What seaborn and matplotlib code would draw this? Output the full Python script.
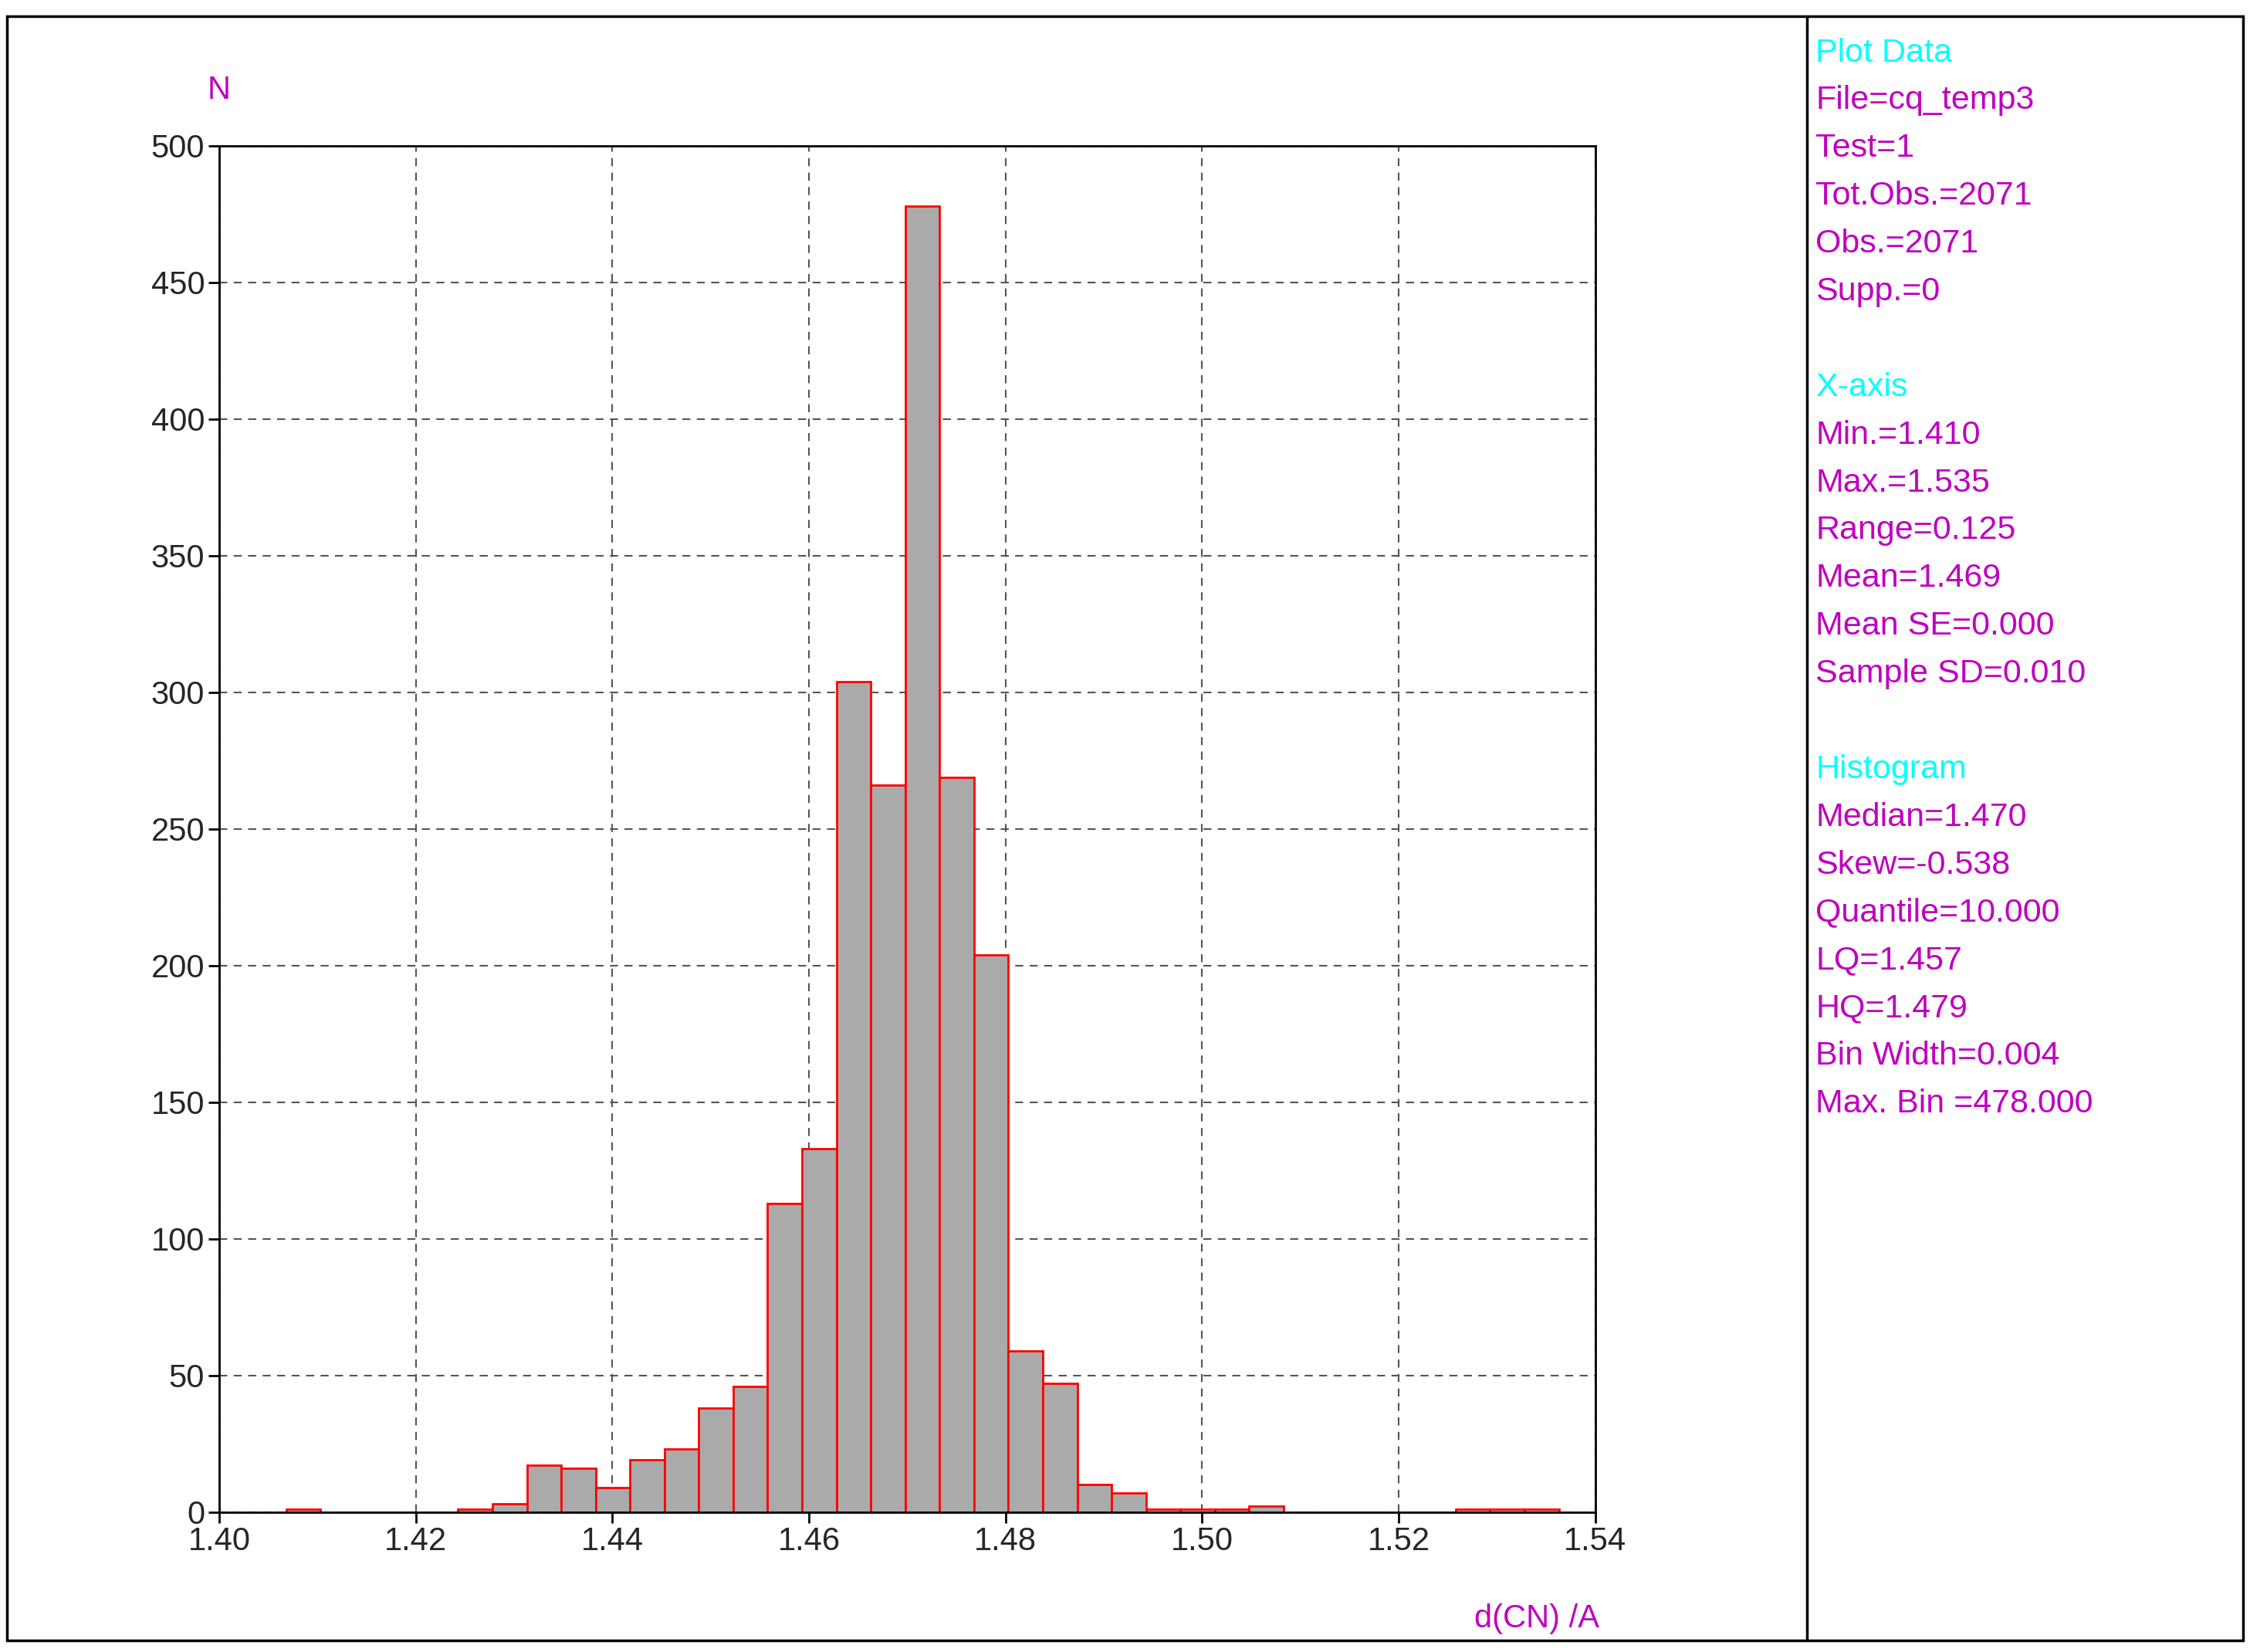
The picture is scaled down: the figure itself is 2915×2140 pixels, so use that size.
import numpy as np
import pandas as pd
import matplotlib.pyplot as plt
import seaborn as sns

# Histogram bins (left edge start + width) and counts
bin_start = 1.4068
bin_width = 0.0035
counts = [1, 0, 0, 0, 0, 1, 3, 17, 16, 9, 19, 23, 38, 46, 113, 133, 304, 266,
          478, 269, 204, 59, 47, 10, 7, 1, 1, 1, 2, 0, 0, 0, 0, 0, 1, 1, 1]

x_ticks = [1.40, 1.42, 1.44, 1.46, 1.48, 1.50, 1.52, 1.54]
y_ticks = [0, 50, 100, 150, 200, 250, 300, 350, 400, 450, 500]

panel = [
    ("Plot Data", "cyan"), ("File=cq_temp3", "m"), ("Test=1", "m"),
    ("Tot.Obs.=2071", "m"), ("Obs.=2071", "m"), ("Supp.=0", "m"), ("", "m"),
    ("X-axis", "cyan"), ("Min.=1.410", "m"), ("Max.=1.535", "m"),
    ("Range=0.125", "m"), ("Mean=1.469", "m"), ("Mean SE=0.000", "m"),
    ("Sample SD=0.010", "m"), ("", "m"),
    ("Histogram", "cyan"), ("Median=1.470", "m"), ("Skew=-0.538", "m"),
    ("Quantile=10.000", "m"), ("LQ=1.457", "m"), ("HQ=1.479", "m"),
    ("Bin Width=0.004", "m"), ("Max. Bin =478.000", "m"),
]

sns.set_style("white")
plt.rcParams['font.family'] = ['Liberation Sans', 'DejaVu Sans']

n = len(counts)
edges = bin_start + bin_width * np.arange(n + 1)
df = pd.DataFrame({"d": edges[:-1] + bin_width / 2, "n": counts})
df = df[df["n"] > 0]

fig = plt.figure(figsize=(29.15, 21.4), dpi=100)
ax = fig.add_axes([0.0974, 0.0848, 0.6116, 0.8269])

sns.histplot(data=df, x="d", weights="n", bins=list(edges), ax=ax,
             color="#aaaaaa", edgecolor="red", linewidth=2, alpha=1)

ax.set_xlim(1.40, 1.54)
ax.set_ylim(0, 500)
ax.set_xticks(x_ticks)
ax.set_xticklabels([f"{t:.2f}" for t in x_ticks])
ax.set_yticks(y_ticks)
ax.tick_params(labelsize=30, length=10, width=2, direction="out", color="black",
               bottom=True, left=True)
ax.set_xlabel("")
ax.set_ylabel("")
ax.grid(True, linestyle=(0, (5, 4)), color="#555555", linewidth=1.5)
ax.set_axisbelow(True)
for s in ax.spines.values():
    s.set_color("black")
    s.set_linewidth(2)

fig.text(0.0974, 0.94, "N", color="m", fontsize=30, ha="center")
fig.text(0.683, 0.015, "d(CN) /A", color="m", fontsize=30, ha="center")

# outer frame and divider
fig.add_artist(plt.Rectangle((0.003, 0.007), 0.994, 0.983, fill=False,
                             edgecolor="black", linewidth=2.5, transform=fig.transFigure))
fig.add_artist(plt.Line2D([0.803, 0.803], [0.007, 0.99], color="black",
                          linewidth=2.5, transform=fig.transFigure))

y0 = 1 - 37 / 1155
step = 33.4 / 1155
for i, (txt, col) in enumerate(panel):
    if txt:
        fig.text(0.807, y0 - i * step, txt, color=col, fontsize=31, va="center")

fig.savefig("out.png", dpi=100)
